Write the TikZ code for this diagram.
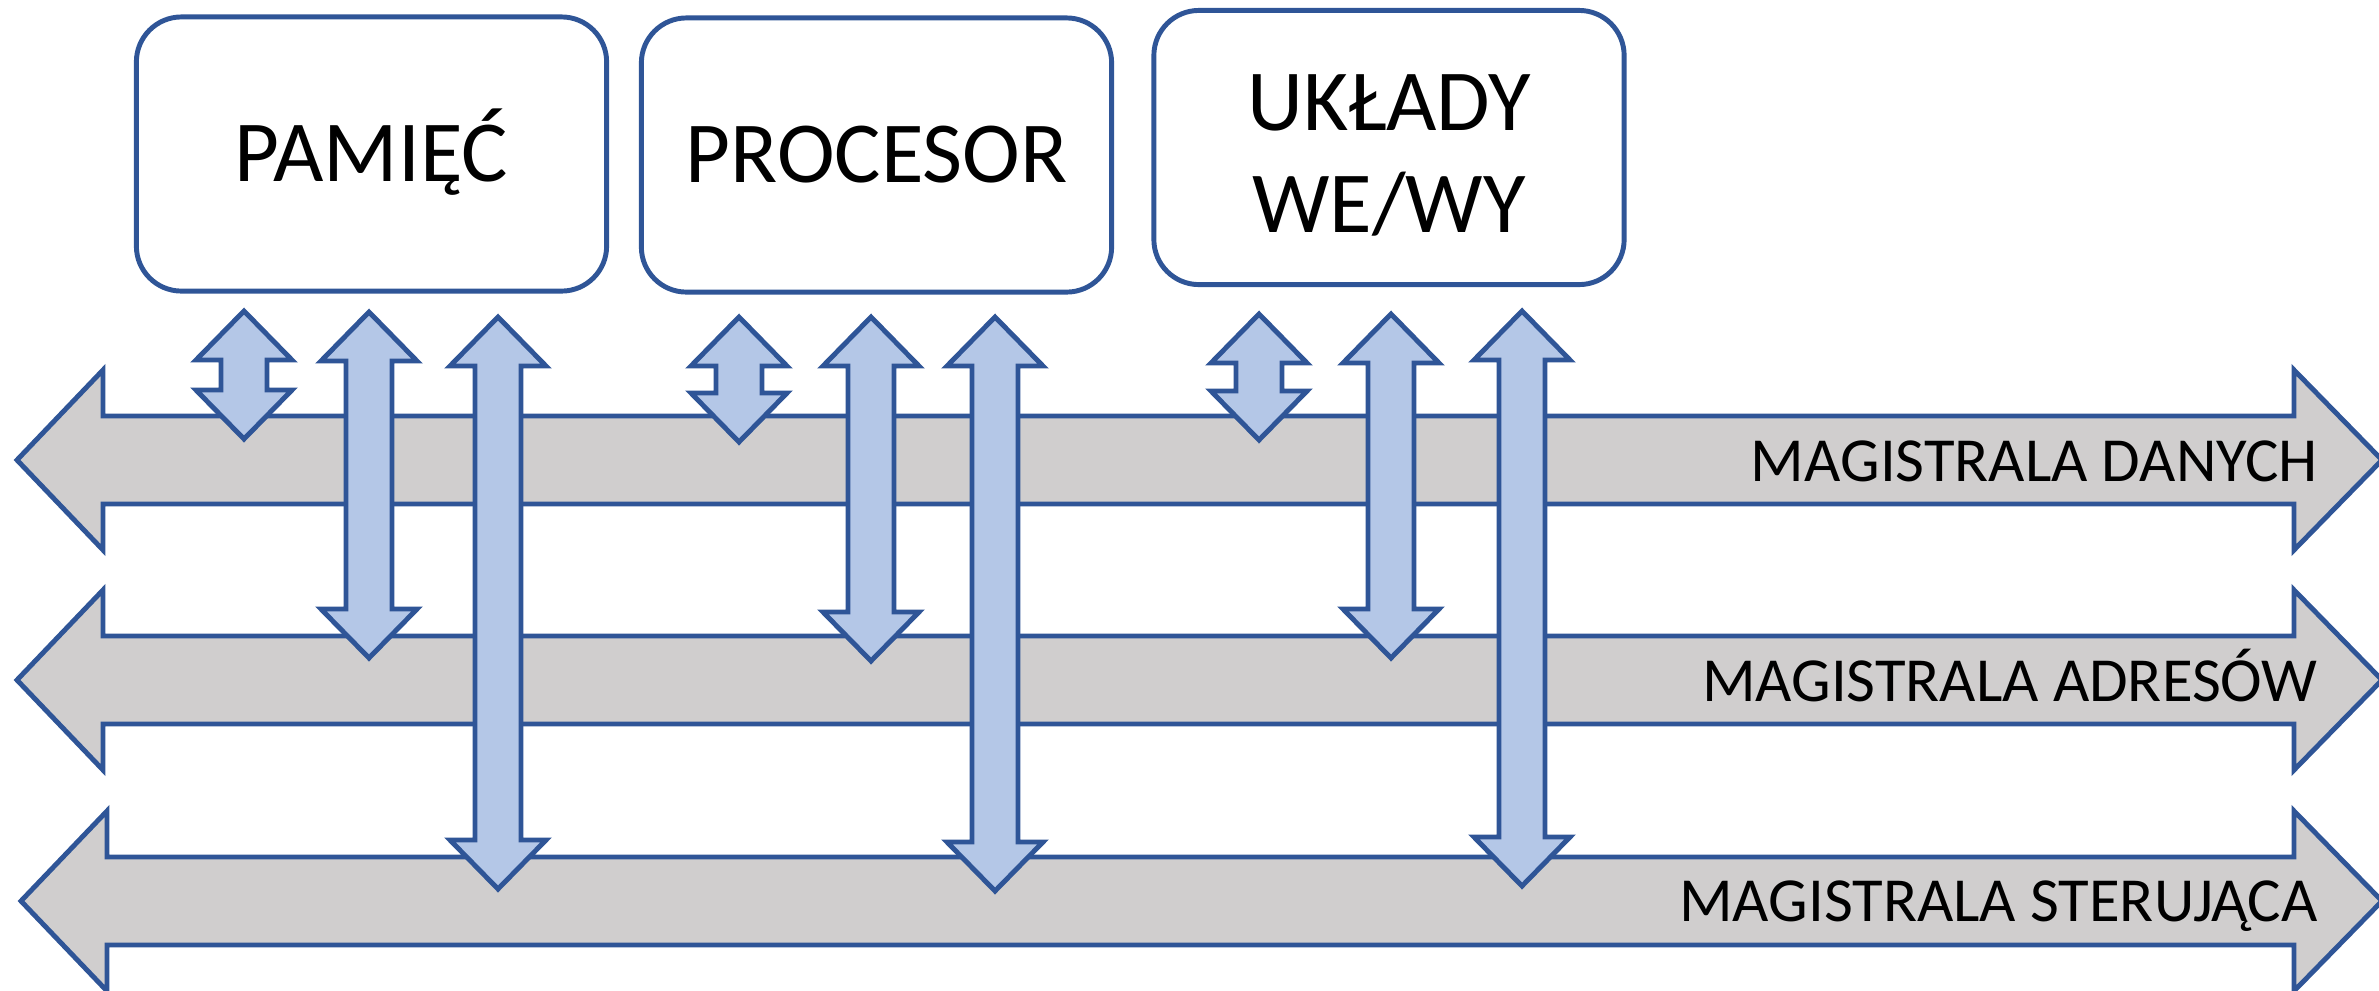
\documentclass[tikz,border=0pt]{standalone}
\usepackage{fontspec}
\setmainfont{Carlito}
\definecolor{edgeblue}{HTML}{2F5597}
\definecolor{linkfill}{HTML}{B4C7E7}
\definecolor{busfill}{HTML}{D0CECE}

% horizontal bus arrow: #1 = x of left tip, #2 = y of centre line
\newcommand\busarrow[2]{%
  \draw[bus] (#1,#2) -- (#1+86,#2-90) -- (#1+86,#2-44) -- (2294,#2-44)
    -- (2294,#2-90) -- (2382,#2) -- (2294,#2+90) -- (2294,#2+44)
    -- (#1+86,#2+44) -- (#1+86,#2+90) -- cycle;}
% vertical two-headed link: #1 = x of axis, #2 = top tip, #3 = bottom tip
\newcommand\linkarrow[3]{%
  \draw[link] (#1,#2) -- (#1+48,#2+49) -- (#1+23,#2+49) -- (#1+23,#3-49)
    -- (#1+48,#3-49) -- (#1,#3) -- (#1-48,#3-49) -- (#1-23,#3-49)
    -- (#1-23,#2+49) -- (#1-48,#2+49) -- cycle;}

\begin{document}
\begin{tikzpicture}[x=0.01cm,y=-0.01cm,line width=1.4pt,line join=miter,
  bus/.style={draw=edgeblue,fill=busfill},
  link/.style={draw=edgeblue,fill=linkfill},
  unit/.style={draw=edgeblue,fill=white,rounded corners=0.45cm,
    minimum width=4.7cm,minimum height=2.74cm,inner sep=0pt,
    font=\fontsize{24.75}{28.8}\selectfont,text depth=0pt},
  buslabel/.style={anchor=base east,inner sep=0pt,
    font=\fontsize{17.84}{21}\selectfont}]
\useasboundingbox (0,0) rectangle (2379,990);

% units; the text box is cut at the last baseline so that the caps sit centred
\node[unit,text height=15.64pt] (mem) at (371.5,154) {PAMIĘĆ};
\node[unit,text height=15.64pt] (cpu) at (876.5,155) {PROCESOR};
\node[unit,align=center,text height=48.08pt] (io) at (1389,147.5) {UKŁADY\\WE/WY};

% buses
\busarrow{17}{460}
\busarrow{17}{680}
\busarrow{21}{901}
\node[buslabel] (dbus) at (2320,481.5) {MAGISTRALA DANYCH};
\node[buslabel] (abus) at (2320,701.5) {MAGISTRALA ADRESÓW};
\node[buslabel] (cbus) at (2320,921.5) {MAGISTRALA STERUJĄCA};

% memory links
\linkarrow{244}{311}{439}
\linkarrow{369}{312}{658}
\linkarrow{498}{317}{889}
% processor links
\linkarrow{739}{317}{442}
\linkarrow{871}{317}{661}
\linkarrow{995}{317}{891}
% I/O links
\linkarrow{1259}{314}{440}
\linkarrow{1391}{314}{658}
\linkarrow{1522}{311}{886}
\end{tikzpicture}
\end{document}
